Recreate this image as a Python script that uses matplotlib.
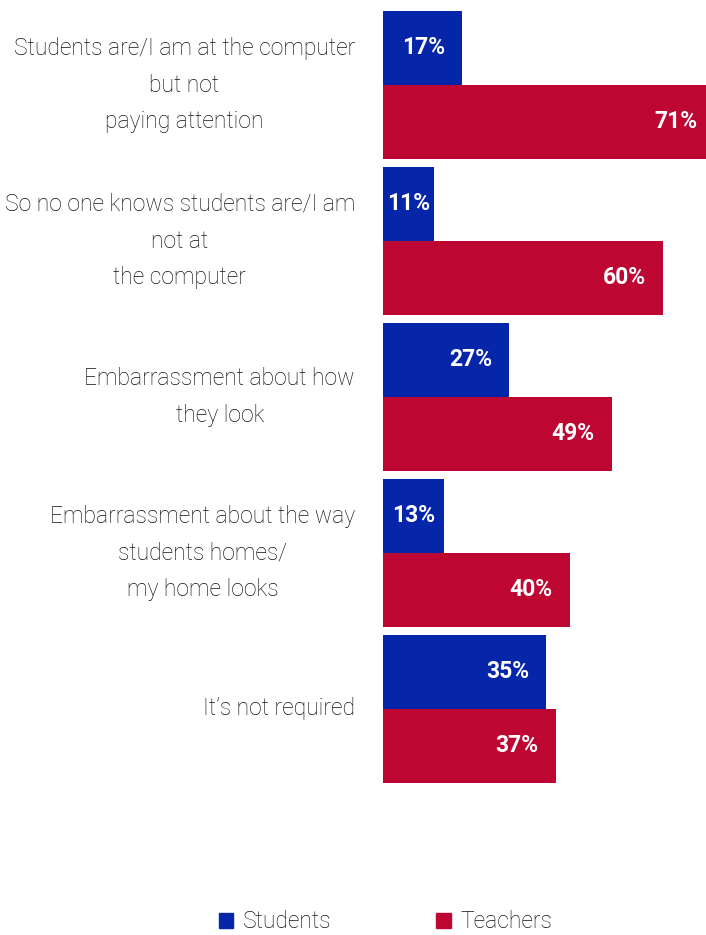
#!/usr/bin/env python3

import matplotlib
matplotlib.use("Agg")
import matplotlib.pyplot as plt
from matplotlib.patches import Patch

# Data
categories = [
    "Students are/I am at the computer\nbut not\npaying attention",
    "So no one knows students are/I am\nnot at\nthe computer",
    "Embarrassment about how\nthey look",
    "Embarrassment about the way\nstudents homes/\nmy home looks",
    "It\u2019s not required",
]
students = [17, 11, 27, 13, 35]
teachers = [71, 60, 49, 40, 37]
series_names = ["Students", "Teachers"]

BLUE = "#0526A8"
RED = "#BD0631"
FONT = ["Roboto", "DejaVu Sans"]

W, H, DPI = 706, 935, 100
fig = plt.figure(figsize=(W / DPI, H / DPI), dpi=DPI)

# axes placed in pixel terms: bars start at x=383 and run off the right edge
left_px, right_px = 383, 706
top_px, bottom_px = 0, 790
ax = fig.add_axes([left_px / W, 1 - bottom_px / H,
                   (right_px - left_px) / W, (bottom_px - top_px) / H])

px_per_pct = 4.667
group_px = 156
bar_h = 74 / group_px
ax.set_xlim(0, (right_px - left_px) / px_per_pct)
ax.set_ylim((bottom_px - 85) / group_px, (top_px - 85) / group_px)

pos = list(range(len(categories)))
ax.barh([p - bar_h / 2 for p in pos], students, height=bar_h, color=BLUE,
        edgecolor="none")
ax.barh([p + bar_h / 2 for p in pos], teachers, height=bar_h, color=RED,
        edgecolor="none")

# value labels, white bold inside the bars
for vals, off in ((students, -bar_h / 2), (teachers, bar_h / 2)):
    for p, v in zip(pos, vals):
        if v < 15:
            ax.text(v / 2, p + off, f"{v}%", ha="center", va="center",
                    color="white", fontsize=16.5, fontweight="bold",
                    family=FONT)
        else:
            ax.annotate(f"{v}%", xy=(v, p + off), xytext=(-17, 0),
                        textcoords="offset pixels", ha="right", va="center",
                        color="white", fontsize=16.5, fontweight="bold",
                        family=FONT, annotation_clip=False)

# category labels to the left of the bars
for p, lab in zip(pos, categories):
    ax.annotate(lab, xy=(0, p), xycoords=("axes fraction", "data"),
                xytext=(-28, 0), textcoords="offset pixels", ha="right",
                va="center", multialignment="center", fontsize=16.5,
                fontweight="light", color="#111111", linespacing=1.75,
                family=FONT, annotation_clip=False)

ax.axis("off")

handles = [Patch(color=BLUE), Patch(color=RED)]
fig.legend(handles, series_names, loc="center", ncol=2, frameon=False,
           bbox_to_anchor=(0.546, 1 - 922 / H), handlelength=0.65,
           handleheight=0.65, handletextpad=0.4, columnspacing=4.6,
           prop={"family": FONT, "size": 16.5, "weight": "light"},
           labelcolor="#111111")

fig.savefig("out.png", dpi=DPI)
